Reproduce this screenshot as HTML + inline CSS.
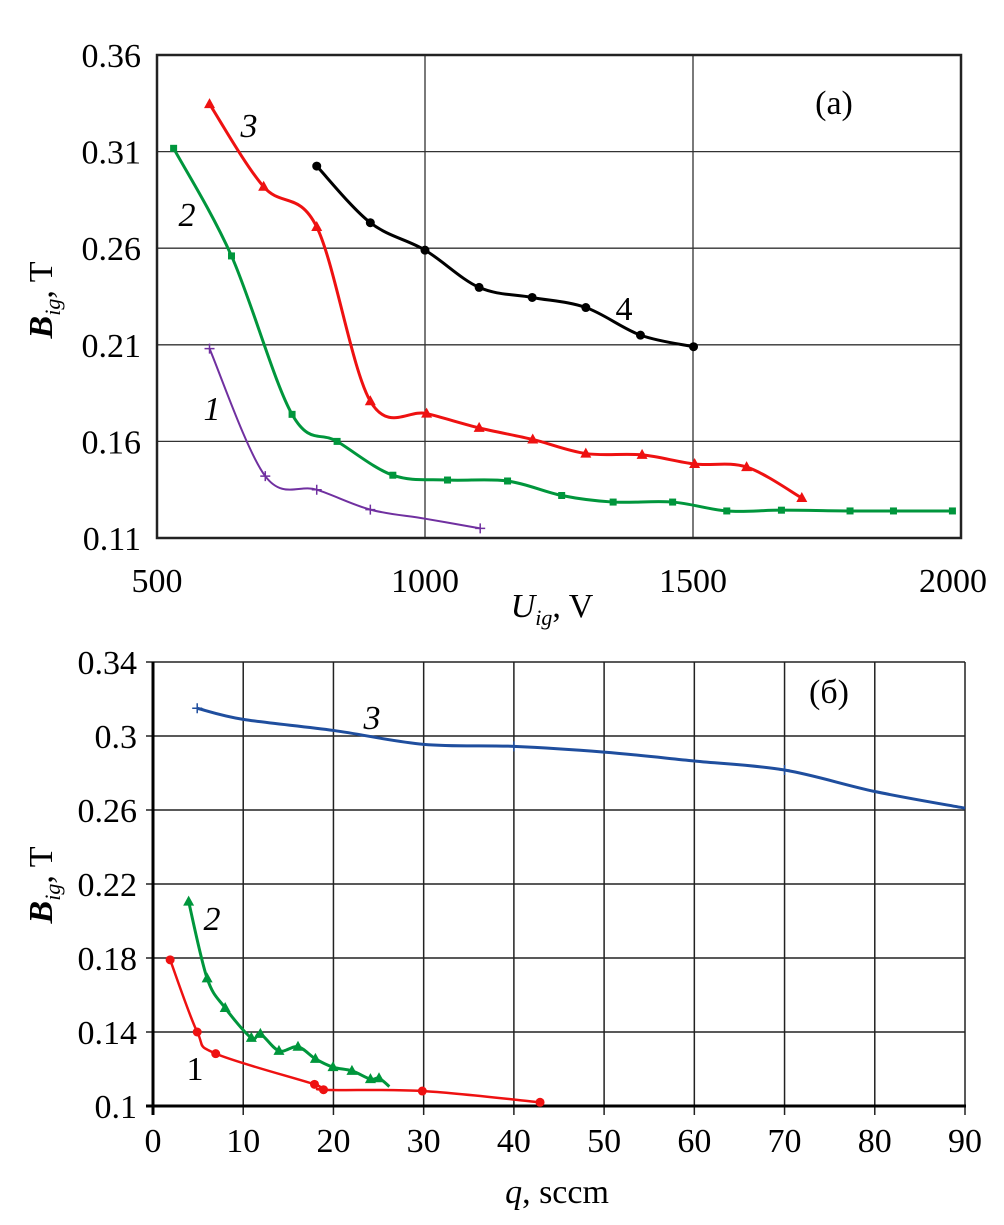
<!DOCTYPE html>
<html><head><meta charset="utf-8"><style>
body{margin:0;background:#fff}
svg{display:block;font-family:"Liberation Serif",serif}
</style></head><body>
<svg id="c" width="1004" height="1225" viewBox="0 0 1004 1225" xmlns="http://www.w3.org/2000/svg"></svg>
<script>
// ---- Panel (a) data ----
const aYTicks=[0.36,0.31,0.26,0.21,0.16,0.11];
const aXTicks=[500,1000,1500,2000];
const a1U=[598,702,798,898,1000,1103];
const a1B=[0.208,0.142,0.135,0.1247,0.120,0.115];
const a1M=[1,1,1,1,0,1];
const a2U=[531,639,752,836,940,1042,1154,1255,1351,1462,1563,1665,1793,1874,1984];
const a2B=[0.3117,0.256,0.174,0.160,0.1425,0.140,0.1395,0.132,0.1286,0.1286,0.124,0.1244,0.124,0.124,0.124];
const a3U=[598,699,798,898,1003,1101,1201,1300,1405,1503,1600,1703];
const a3B=[0.3346,0.2918,0.271,0.1808,0.1744,0.167,0.161,0.1537,0.153,0.1483,0.1467,0.1307];
const a4U=[798,898,1000,1101,1200,1300,1402,1501];
const a4B=[0.3025,0.2732,0.259,0.2397,0.2345,0.2293,0.215,0.209];
// ---- Panel (б) data ----
const bYTicks=[0.34,0.3,0.26,0.22,0.18,0.14,0.1];
const bXTicks=[0,10,20,30,40,50,60,70,80,90];
const b1Q=[1.9,4.9,6.95,17.9,18.9,29.85,42.9];
const b1B=[0.179,0.14,0.1283,0.1117,0.1088,0.1081,0.102];
const b2Q=[3.95,6.0,8.0,10.9,11.9,13.96,16.07,18.0,19.95,22.05,24.1,25.05,26.2];
const b2B=[0.2105,0.169,0.153,0.1368,0.139,0.1298,0.132,0.1255,0.121,0.119,0.1145,0.115,0.1105];
const b2M=[1,1,1,1,1,1,1,1,1,1,1,1,0];
const b3Q=[4.9,10,20,30,40,50,60,70,80,90];
const b3B=[0.315,0.309,0.303,0.2955,0.2944,0.2913,0.2865,0.2816,0.270,0.261];
const b3M=[1,0,0,0,1,0,0,1,0,0];

const NS="http://www.w3.org/2000/svg";
const svg=document.getElementById('c');
function el(t,a,p){const e=document.createElementNS(NS,t);for(const k in a)e.setAttribute(k,a[k]);(p||svg).appendChild(e);return e;}
function txt(s,a,p){const e=el('text',a,p);e.textContent=s;return e;}

const axX=v=>157+(v-500)/1500*804;
const axY=v=>55+(0.36-v)/0.25*483;
const bxX=v=>153+v/90*812;
const bxY=v=>662+(0.34-v)/0.24*444;
const FS=34;

function smooth(pts){
  let d='M'+pts[0][0]+','+pts[0][1];
  for(let i=0;i<pts.length-1;i++){
    const p0=pts[i-1]||pts[i],p1=pts[i],p2=pts[i+1],p3=pts[i+2]||p2;
    const t=6;
    d+=' C'+(p1[0]+(p2[0]-p0[0])/t)+','+(p1[1]+(p2[1]-p0[1])/t)+' '+(p2[0]-(p3[0]-p1[0])/t)+','+(p2[1]-(p3[1]-p1[1])/t)+' '+p2[0]+','+p2[1];
  }
  return d;
}
function marker(type,x,y,col,g){
  let m;
  if(type==='circle') m=el('circle',{cx:x,cy:y,r:4.5,fill:col},g);
  else if(type==='square') m=el('rect',{x:x-3.5,y:y-3.5,width:7,height:7,fill:col},g);
  else if(type==='tri') m=el('polygon',{points:(x)+','+(y-6)+' '+(x-5.5)+','+(y+4)+' '+(x+5.5)+','+(y+4),fill:col},g);
  else { m=el('path',{d:'M'+(x-5)+','+y+'H'+(x+5)+'M'+x+','+(y-5)+'V'+(y+5),stroke:col,'stroke-width':1.5},g); }
  return m;
}
function series(name,xs,ys,fx,fy,col,w,type,mk){
  const g=el('g',{});
  
  
  const pts=xs.map((v,i)=>[fx(v),fy(ys[i])]);
  const p=el('path',{d:smooth(pts),fill:'none',stroke:col,'stroke-width':w},g);
  
  
  pts.forEach((q,i)=>{ if(!mk||mk[i]){const m=marker(type,q[0],q[1],col,g);
    
    }});
}

// ===== Panel (a) =====
const ga=el('g',{});


aYTicks.forEach(v=>{
  const l=el('line',{x1:157,x2:961,y1:axY(v),y2:axY(v),stroke:'#333','stroke-width':1.3},ga);
  
  
  const t=txt(v.toFixed(2),{x:141,y:axY(v)+12,'text-anchor':'end','font-size':FS},ga);
  
  
});
aXTicks.forEach((v,i)=>{
  if(i>0&&i<aXTicks.length-1){const l=el('line',{x1:axX(v),x2:axX(v),y1:55,y2:538,stroke:'#333','stroke-width':1.3},ga);
  
  }
  const t=txt(String(v),{x:i==aXTicks.length-1?axX(v)-8:axX(v),y:592,'text-anchor':'middle','font-size':FS},ga);
  
  
});
const ra=el('rect',{x:157,y:55,width:804,height:483,fill:'none',stroke:'#222','stroke-width':2.5},ga);


series('series-a1',a1U,a1B,axX,axY,'#7030a0',2,'plus',a1M);
series('series-a2',a2U,a2B,axX,axY,'#00963c',3,'square');
series('series-a3',a3U,a3B,axX,axY,'#ee1111',3,'tri');
series('series-a4',a4U,a4B,axX,axY,'#000',3,'circle');
[['3',249,137,'italic'],['2',187,226,'italic'],['1',212,420,'italic'],['4',624,320,'normal'],['(a)',834,114,'normal']].forEach(a=>{
  const t=txt(a[0],{x:a[1],y:a[2],'text-anchor':'middle','font-size':FS,'font-style':a[3]},ga);
  
  
});
const xta=el('text',{x:552,y:617,'text-anchor':'middle','font-size':FS},ga);
xta.innerHTML='<tspan font-style="italic">U</tspan><tspan font-style="italic" font-size="22" dy="8">ig</tspan><tspan dy="-8">, V</tspan>';


const yta=el('text',{x:0,y:0,'text-anchor':'middle','font-size':FS,transform:'translate(52,300) rotate(-90)'},ga);
yta.innerHTML='<tspan font-style="italic" font-weight="bold">B</tspan><tspan font-style="italic" font-size="22" dy="8">ig</tspan><tspan dy="-8">, T</tspan>';



// ===== Panel (б) =====
const gb=el('g',{});


bYTicks.forEach(v=>{
  const l=el('line',{x1:146,x2:965,y1:bxY(v),y2:bxY(v),stroke:'#222','stroke-width':1.5},gb);
  
  
  const t=txt(String(v),{x:137,y:bxY(v)+12,'text-anchor':'end','font-size':FS},gb);
  
  
});
bXTicks.forEach(v=>{
  const l=el('line',{x1:bxX(v),x2:bxX(v),y1:662,y2:1115,stroke:'#222','stroke-width':1.5},gb);
  
  
  const t=txt(String(v),{x:bxX(v),y:1152,'text-anchor':'middle','font-size':FS},gb);
  
  
});
const axl=el('line',{x1:153,x2:153,y1:662,y2:1115,stroke:'#000','stroke-width':3},gb);


const axb=el('line',{x1:146,x2:966,y1:1106,y2:1106,stroke:'#000','stroke-width':3},gb);


series('series-b3',b3Q,b3B,bxX,bxY,'#1f4e9e',3,'plus',b3M);
series('series-b1',b1Q,b1B,bxX,bxY,'#ee1111',2.5,'circle');
series('series-b2',b2Q,b2B,bxX,bxY,'#00963c',3,'tri',b2M);
[['3',372,729,'italic'],['2',212,930,'italic'],['1',195,1080,'normal'],['(б)',829,703,'normal']].forEach(a=>{
  const t=txt(a[0],{x:a[1],y:a[2],'text-anchor':'middle','font-size':FS,'font-style':a[3]},gb);
  
  
});
const xtb=el('text',{x:557,y:1203,'text-anchor':'middle','font-size':FS},gb);
xtb.innerHTML='<tspan font-style="italic">q</tspan>, sccm';


const ytb=el('text',{x:0,y:0,'text-anchor':'middle','font-size':FS,transform:'translate(52,885) rotate(-90)'},gb);
ytb.innerHTML='<tspan font-style="italic" font-weight="bold">B</tspan><tspan font-style="italic" font-size="22" dy="8">ig</tspan><tspan dy="-8">, T</tspan>';


</script>
</body></html>
